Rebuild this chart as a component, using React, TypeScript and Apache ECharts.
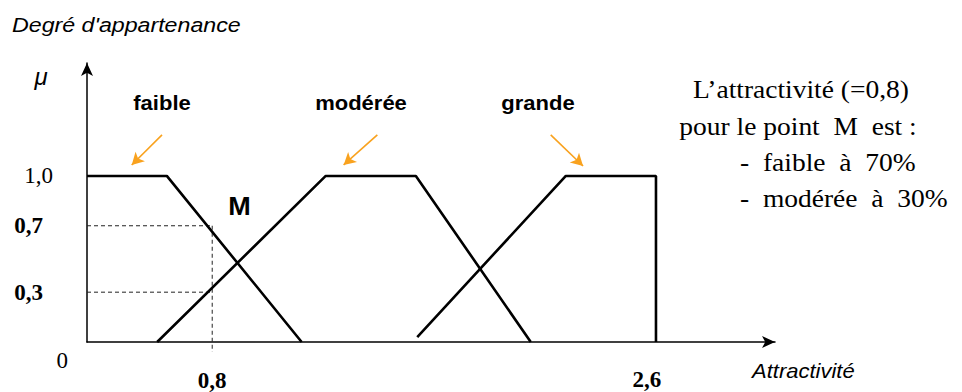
import React, { useEffect, useRef } from "react";
import * as echarts from "echarts";

// Schematic x scale (0..100 along the drawn axis), y = degree of membership
const faibleData = [[0, 1], [11.6, 1], [31.2, 0]];
const modereeData = [[10.2, 0], [34.7, 1], [47.8, 1], [64.5, 0]];
const grandeData = [[48.0, 0.03], [69.6, 1], [82.7, 1], [82.7, 0]];
const pointMX = 18.2;
const pointMHigh = 0.7;
const pointMLow = 0.3;

const yTickValues = [0, 0.3, 0.7, 1.0];
const yTickLabels = ["0", "0,3", "0,7", "1,0"];
const xTickValues = [18.2, 82.7];
const xTickLabels = ["0,8", "2,6"];

// orange arrows: [from, to] in data coordinates
const arrowFaible = [[10.9, 1.247], [6.5, 1.066]];
const arrowModeree = [[42.2, 1.247], [37.3, 1.066]];
const arrowGrande = [[67.4, 1.247], [72.1, 1.06]];

const BLACK = "#000000";
const ORANGE = "#F9A21E";
const SERIF = "'Liberation Serif', 'Times New Roman', serif";
const SANS = "'Liberation Sans', Arial, sans-serif";

function txt(text: string, x: number, y: number, opts: any) {
  return {
    type: "text",
    x,
    y,
    scaleX: opts.scaleX ?? 1,
    silent: true,
    style: {
      text,
      fill: opts.fill ?? BLACK,
      fontSize: opts.fontSize,
      fontFamily: opts.fontFamily,
      fontWeight: opts.fontWeight ?? "normal",
      fontStyle: opts.fontStyle ?? "normal",
      align: opts.align ?? "left",
      verticalAlign: "middle",
      textAlign: opts.align ?? "left",
      textVerticalAlign: "middle",
    },
  };
}

export default function App() {
  const ref = useRef<HTMLDivElement>(null);

  useEffect(() => {
    if (!ref.current) return;
    const chart = echarts.init(ref.current, undefined, { renderer: "svg" });

    const lineSeries = (name: string, data: number[][], extra: any = {}) => ({
      type: "line",
      name,
      data,
      showSymbol: false,
      symbol: "none",
      silent: true,
      lineStyle: { color: BLACK, width: 2.6 },
      ...extra,
    });

    const guide = (data: number[][]) =>
      lineSeries("guide", data, {
        clip: false,
        lineStyle: { color: "#222", width: 1, type: [4, 3] },
        z: 1,
      });

    const arrow = (a: number[][]) => [
      { coord: a[0] },
      { coord: a[1] },
    ];

    const option: any = {
      animation: false,
      backgroundColor: "#ffffff",
      grid: {
        left: 87,
        right: 187,
        top: 63,
        bottom: 50,
        containLabel: false,
        outerBoundsMode: "none",
      },
      xAxis: {
        type: "value",
        min: 0,
        max: 100,
        splitLine: { show: false },
        axisTick: { show: false },
        axisLine: {
          show: true,
          onZero: false,
          symbol: ["none", "arrow"],
          symbolSize: [9, 13],
          lineStyle: { color: BLACK, width: 1.5 },
        },
        axisLabel: {
          customValues: xTickValues,
          margin: 26,
          formatter: (v: number) => {
            const i = xTickValues.findIndex((t) => Math.abs(t - v) < 1e-6);
            if (i < 0) return "";
            return i === 0 ? `{a|${xTickLabels[i]}}` : `{b|${xTickLabels[i]}}`;
          },
          rich: {
            a: { fontFamily: SERIF, fontSize: 23, fontWeight: "bold", color: BLACK, padding: [1, 0, 0, 0] },
            b: { fontFamily: SERIF, fontSize: 23, fontWeight: "bold", color: BLACK, padding: [0, 18, 0, 0] },
          },
        },
      },
      yAxis: {
        type: "value",
        min: 0,
        max: 1.68,
        splitLine: { show: false },
        axisTick: { show: false },
        axisLine: {
          show: true,
          symbol: ["none", "arrow"],
          symbolSize: [9, 13],
          lineStyle: { color: BLACK, width: 1.5 },
        },
        axisLabel: {
          customValues: yTickValues,
          margin: 19,
          formatter: (v: number) => {
            const i = yTickValues.findIndex((t) => Math.abs(t - v) < 1e-6);
            if (i < 0) return "";
            if (i === 0) return `{z|${yTickLabels[i]}}`;
            if (yTickValues[i] === 1) return `{o|${yTickLabels[i]}}`;
            return `{b|${yTickLabels[i]}}`;
          },
          rich: {
            z: { fontFamily: SERIF, fontSize: 23, color: BLACK, padding: [36, 0, 0, 0] },
            o: { fontFamily: SERIF, fontSize: 23, color: BLACK, padding: [0, 15, 0, 0] },
            b: { fontFamily: SERIF, fontSize: 23, fontWeight: "bold", color: BLACK, padding: [0, 25, 0, 0] },
          },
        },
      },
      series: [
        guide([[0, pointMHigh], [pointMX, pointMHigh]]),
        guide([[0, pointMLow], [pointMX, pointMLow]]),
        guide([[pointMX, pointMHigh], [pointMX, -0.06]]),
        lineSeries("faible", faibleData),
        lineSeries("modérée", modereeData),
        lineSeries("grande", grandeData, {
          markLine: {
            silent: true,
            symbol: ["none", "arrow"],
            symbolSize: [10, 12],
            label: { show: false },
            lineStyle: { color: ORANGE, width: 1.6, type: "solid" },
            data: [arrow(arrowFaible), arrow(arrowModeree), arrow(arrowGrande)],
          },
        }),
      ],
      graphic: [
        txt("Degré d'appartenance", 12, 25, { fontSize: 20, fontFamily: SANS, fontStyle: "italic", scaleX: 1.16 }),
        txt("μ", 41, 76, { fontSize: 24, fontFamily: SANS, fontStyle: "italic", align: "center" }),
        txt("faible", 162, 103, { fontSize: 20, fontFamily: SANS, fontWeight: "bold", align: "center", scaleX: 1.1 }),
        txt("modérée", 361, 103, { fontSize: 20, fontFamily: SANS, fontWeight: "bold", align: "center", scaleX: 1.1 }),
        txt("grande", 538, 103, { fontSize: 20, fontFamily: SANS, fontWeight: "bold", align: "center", scaleX: 1.1 }),
        txt("M", 239.5, 206, { fontSize: 25, fontFamily: SANS, fontWeight: "bold", align: "center", scaleX: 1.08 }),
        txt("Attractivité", 752, 371, { fontSize: 20, fontFamily: SANS, fontStyle: "italic", scaleX: 1.1 }),
        txt("L’attractivité (=0,8)", 801, 90, { fontSize: 25, fontFamily: SERIF, align: "center", scaleX: 1.1 }),
        txt("pour le point  M  est :", 798, 127, { fontSize: 25, fontFamily: SERIF, align: "center", scaleX: 1.1 }),
        txt("-  faible  à  70%", 740, 163, { fontSize: 25, fontFamily: SERIF, scaleX: 1.1 }),
        txt("-  modérée  à  30%", 740, 199, { fontSize: 25, fontFamily: SERIF, scaleX: 1.1 }),
      ],
    };

    chart.setOption(option);
    return () => chart.dispose();
  }, []);

  return (
    <div
      ref={ref}
      style={{ position: "fixed", left: 0, top: 0, width: 962, height: 392, background: "#fff" }}
    />
  );
}
